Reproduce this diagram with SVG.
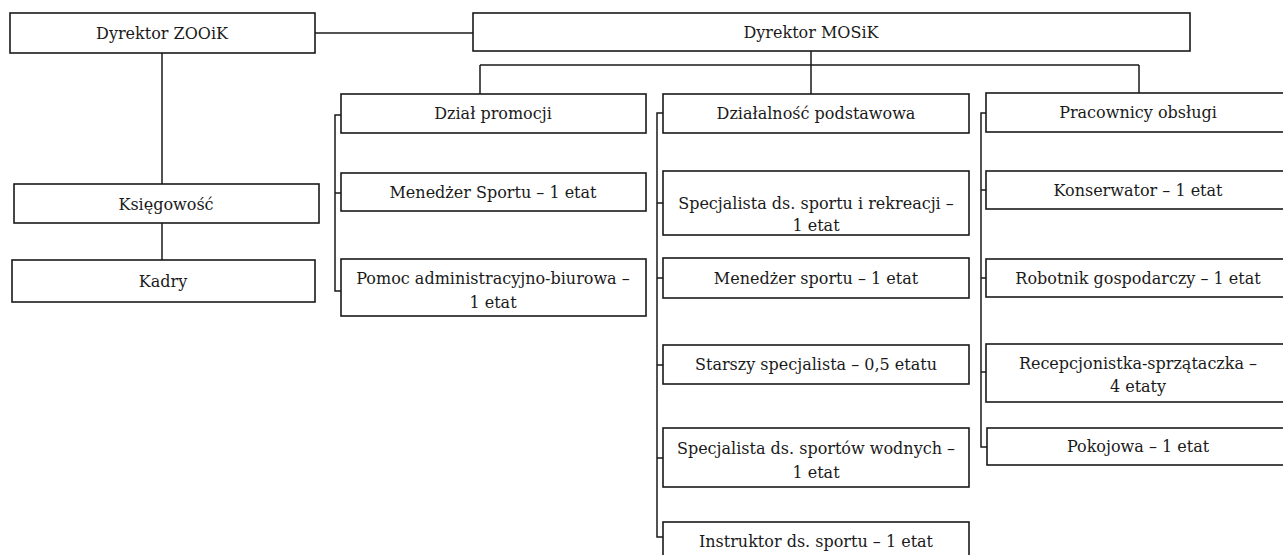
<svg xmlns="http://www.w3.org/2000/svg" width="1283" height="555" viewBox="0 0 1283 555">
<style>
.box{fill:#fff;stroke:#1a1a1a;stroke-width:1.6}
.ln{fill:none;stroke:#1a1a1a;stroke-width:1.5}
text{font-family:"DejaVu Serif","Liberation Serif",serif;font-size:16px;letter-spacing:0px;fill:#1a1a1a;text-anchor:middle}
</style>
<rect width="1283" height="555" fill="#fff"/>
<g id="connectors">
<path class="ln" d="M315 33H473"/>
<path class="ln" d="M162 53V184M162 223V260"/>
<path class="ln" d="M811 51V65M480 65H1139M480 65V94M811 65V94M1139 65V93"/>
<path class="ln" d="M341 115H335V291H341M335 193H341"/>
<path class="ln" d="M663 113H657V537H663M657 203H663M657 278H663M657 365H663M657 458H663"/>
<path class="ln" d="M986 113H981V447H987M981 190H986M981 278H986M981 372H986"/>
</g>
<g id="zooik"><rect class="box" x="10" y="13" width="305" height="40"/><text x="162" y="39">Dyrektor ZOOiK</text></g>
<g id="mosik"><rect class="box" x="473" y="13" width="717" height="38"/><text x="811" y="38">Dyrektor MOSiK</text></g>
<g id="ksiegowosc"><rect class="box" x="14" y="184" width="305" height="39"/><text x="166" y="210">Księgowość</text></g>
<g id="kadry"><rect class="box" x="12" y="260" width="303" height="42"/><text x="163" y="287">Kadry</text></g>
<g id="dzial-promocji"><rect class="box" x="341" y="94" width="305" height="39"/><text x="493" y="119">Dział promocji</text></g>
<g id="menedzer-sportu-1"><rect class="box" x="341" y="173" width="305" height="38"/><text x="493" y="198">Menedżer Sportu – 1 etat</text></g>
<g id="pomoc"><rect class="box" x="341" y="259" width="305" height="57"/><text x="493" y="284">Pomoc administracyjno-biurowa –</text><text x="493" y="308">1 etat</text></g>
<g id="dzialalnosc"><rect class="box" x="663" y="94" width="306" height="39"/><text x="816" y="119">Działalność podstawowa</text></g>
<g id="specjalista-rekreacji"><rect class="box" x="663" y="171" width="306" height="64"/><text x="816" y="209">Specjalista ds. sportu i rekreacji –</text><text x="816" y="231">1 etat</text></g>
<g id="menedzer-sportu-2"><rect class="box" x="663" y="258" width="306" height="40"/><text x="816" y="284">Menedżer sportu – 1 etat</text></g>
<g id="starszy"><rect class="box" x="663" y="345" width="306" height="39"/><text x="816" y="370">Starszy specjalista – 0,5 etatu</text></g>
<g id="wodnych"><rect class="box" x="663" y="428" width="306" height="59"/><text x="816" y="454">Specjalista ds. sportów wodnych –</text><text x="816" y="478">1 etat</text></g>
<g id="instruktor"><rect class="box" x="663" y="522" width="306" height="40"/><text x="816" y="547">Instruktor ds. sportu – 1 etat</text></g>
<g id="pracownicy"><rect class="box" x="986" y="93" width="305" height="39"/><text x="1138" y="118">Pracownicy obsługi</text></g>
<g id="konserwator"><rect class="box" x="986" y="171" width="305" height="38"/><text x="1138" y="196">Konserwator – 1 etat</text></g>
<g id="robotnik"><rect class="box" x="986" y="259" width="305" height="38"/><text x="1138" y="284">Robotnik gospodarczy – 1 etat</text></g>
<g id="recepcjonistka"><rect class="box" x="986" y="344" width="305" height="58"/><text x="1138" y="369">Recepcjonistka-sprzątaczka –</text><text x="1138" y="392">4 etaty</text></g>
<g id="pokojowa"><rect class="box" x="987" y="428" width="304" height="37"/><text x="1138" y="452">Pokojowa – 1 etat</text></g>
</svg>
